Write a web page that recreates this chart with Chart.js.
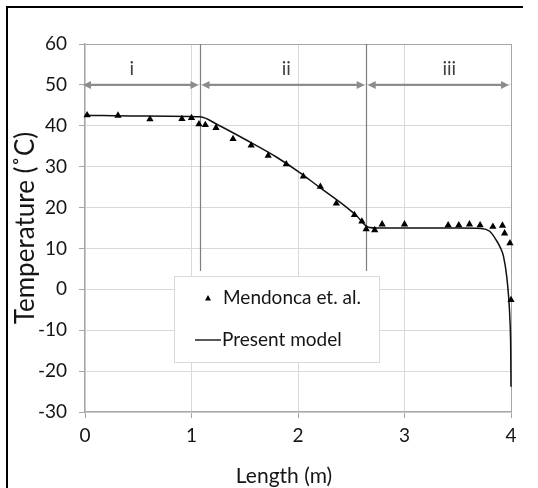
<!DOCTYPE html>
<html><head><meta charset="utf-8">
<script src="https://cdn.jsdelivr.net/npm/chart.js@4/dist/chart.umd.min.js"></script>
<style>html,body{margin:0;padding:0;background:#fff;}</style>
</head><body>
<canvas id="c" width="538" height="488" style="display:block;width:538px;height:488px"></canvas>
<script>
// ---- data ----
const expLength = [0.02,0.31,0.61,0.91,1.00,1.07,1.13,1.23,1.39,1.56,1.72,1.89,2.05,2.21,2.36,2.53,2.60,2.64,2.72,2.79,3.00,3.41,3.51,3.61,3.71,3.83,3.92,3.94,3.99,4.00];
const expTemp   = [42.6,42.5,41.6,41.7,41.9,40.4,40.2,39.5,36.8,35.2,32.7,30.6,27.6,25.1,21.0,18.2,16.6,14.7,14.5,15.9,15.9,15.7,15.7,15.9,15.7,15.3,15.6,13.7,11.3,-2.6];
const modelLength = [0,0.5,1.08,1.25,1.55,1.8,2.02,2.2,2.4,2.55,2.66,2.75,3.0,3.5,3.72,3.8,3.86,3.9,3.93,3.96,3.98,3.99,3.997,4.0];
const modelTemp   = [42.6,42.4,42.2,40.2,36.0,32.3,28.5,25.0,21.2,18.0,15.2,15.0,15.0,15.0,14.9,14.2,12.1,10.2,8.0,3.1,-2.6,-7.5,-14,-23.8];
const xTicks = [0,1,2,3,4];
const yTicks = [-30,-20,-10,0,10,20,30,40,50,60];
const regionBounds = [0,1.08,2.64,4];
const regionLabels = ['i','ii','iii'];
const regionLabelX = [0.44,1.89,3.42];
const arrowLevel = 50;
const labelLevel = 54;
const dividerBottom = 4.5;
const seriesNames = ['Mendonca et. al.','Present model'];
const xTitle = 'Length (m)';
const yTitle = 'Temperature (\u02DAC)';

const FONT = 'Lato, "Noto Sans", sans-serif';
const GRID = '#d9d9d9', AXIS = '#a6a6a6', TXT = '#151515';

const annot = {
  id:'annot',
  beforeDatasetsDraw(chart){
    const {ctx, scales:{x,y}} = chart;
    ctx.save();
    ctx.strokeStyle = '#7f7f7f'; ctx.lineWidth = 1.2;
    for (let i=1;i<regionBounds.length-1;i++){
      const px = Math.round(x.getPixelForValue(regionBounds[i]))+0.5;
      ctx.beginPath(); ctx.moveTo(px, y.getPixelForValue(60)); ctx.lineTo(px, y.getPixelForValue(dividerBottom)); ctx.stroke();
    }
    const ay = y.getPixelForValue(arrowLevel);
    ctx.strokeStyle = '#8c8c8c'; ctx.fillStyle = '#8c8c8c'; ctx.lineWidth = 2.4;
    const hl = 8, hw = 4;
    for (let i=0;i<regionBounds.length-1;i++){
      let x1 = x.getPixelForValue(regionBounds[i]) + (i===0 ? -2 : 1.5);
      let x2 = x.getPixelForValue(regionBounds[i+1]) - (i===regionBounds.length-2 ? 2 : 1.5);
      ctx.beginPath(); ctx.moveTo(x1+hl-1, ay); ctx.lineTo(x2-hl+1, ay); ctx.stroke();
      ctx.beginPath(); ctx.moveTo(x1, ay); ctx.lineTo(x1+hl, ay-hw); ctx.lineTo(x1+hl, ay+hw); ctx.closePath(); ctx.fill();
      ctx.beginPath(); ctx.moveTo(x2, ay); ctx.lineTo(x2-hl, ay-hw); ctx.lineTo(x2-hl, ay+hw); ctx.closePath(); ctx.fill();
    }
    ctx.fillStyle = '#404040'; ctx.font = '19px ' + FONT; ctx.textAlign='center'; ctx.textBaseline='middle';
    regionLabels.forEach((t,i)=> ctx.fillText(t, x.getPixelForValue(regionLabelX[i]), y.getPixelForValue(labelLevel)));
    ctx.restore();
  },
  afterDatasetsDraw(chart){
    const {ctx} = chart;
    ctx.save();
    const L=174.5, T=276.5, W=205, H=86;
    ctx.fillStyle='#fff'; ctx.fillRect(L,T,W,H);
    ctx.strokeStyle='#d9d9d9'; ctx.lineWidth=1; ctx.strokeRect(L,T,W,H);
    ctx.fillStyle='#000';
    ctx.beginPath(); ctx.moveTo(208,295); ctx.lineTo(211,300.5); ctx.lineTo(205,300.5); ctx.closePath(); ctx.fill();
    ctx.strokeStyle='#000'; ctx.lineWidth=1.3;
    ctx.beginPath(); ctx.moveTo(195,340); ctx.lineTo(221,340); ctx.stroke();
    ctx.fillStyle=TXT; ctx.font='19px '+FONT; ctx.textAlign='left'; ctx.textBaseline='middle';
    ctx.fillText(seriesNames[0], 223, 298);
    ctx.fillText(seriesNames[1], 222, 340);
    ctx.restore();
  },
  afterDraw(chart){
    const {ctx} = chart;
    ctx.save();
    ctx.fillStyle=TXT; ctx.font='21px '+FONT; ctx.textAlign='center'; ctx.textBaseline='middle';
    ctx.fillText(xTitle, 284, 476);
    ctx.strokeStyle='#000'; ctx.lineWidth=2;
    ctx.beginPath(); ctx.moveTo(7,488); ctx.lineTo(7,7); ctx.lineTo(523,7); ctx.stroke();
    ctx.restore();
  }
};

new Chart(document.getElementById('c'), {
  type:'scatter',
  data:{ datasets:[
    { label:seriesNames[0], data: expLength.map((v,i)=>({x:v,y:expTemp[i]})),
      pointStyle:'triangle', pointRadius:4.2, pointHoverRadius:4.2, backgroundColor:'#000', borderColor:'#000', borderWidth:0, showLine:false, clip:false, order:1 },
    { label:seriesNames[1], data: modelLength.map((v,i)=>({x:v,y:modelTemp[i]})),
      showLine:true, pointRadius:0, borderColor:'#111', borderWidth:1.5, cubicInterpolationMode:'monotone', fill:false, clip:false, order:2 }
  ]},
  options:{
    responsive:false, animation:false, devicePixelRatio:1,
    layout:{ padding:{ top:44, right:27, left:0, bottom:0 } },
    plugins:{ legend:{display:false}, tooltip:{enabled:false} },
    scales:{
      x:{ type:'linear', min:0, max:4,
        afterBuildTicks: s => { s.ticks = xTicks.map(v=>({value:v})); },
        afterFit: s => { s.height = 76; },
        grid:{ color: c => (c.tick && c.tick.value===4) ? AXIS : GRID, tickColor:AXIS, tickLength:6, lineWidth:1 },
        border:{ color:AXIS, width:1.3 },
        ticks:{ color:TXT, font:{family:FONT, size:19}, padding:6, maxRotation:0 },
        title:{ display:false }
      },
      y:{ type:'linear', min:-30, max:60,
        afterBuildTicks: s => { s.ticks = yTicks.map(v=>({value:v})); },
        afterFit: s => { s.width = 85; },
        grid:{ color: c => (c.tick && c.tick.value===60) ? AXIS : GRID, tickColor:AXIS, tickLength:6, lineWidth:1 },
        border:{ color:AXIS, width:1.3 },
        ticks:{ color:TXT, font:{family:FONT, size:19}, padding:12 },
        title:{ display:true, text:yTitle, color:TXT, font:{family:FONT, size:26}, padding:{top:10,bottom:0} }
      }
    }
  },
  plugins:[annot]
});
</script>
</body></html>
